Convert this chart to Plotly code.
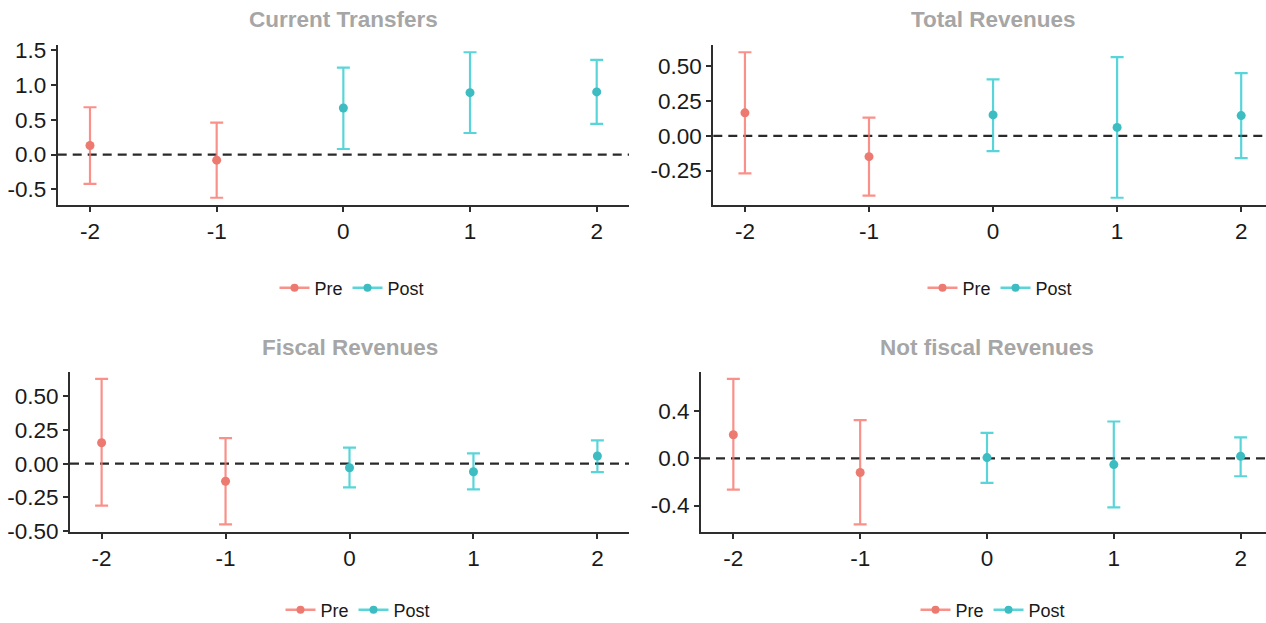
import plotly.graph_objects as go

# ---------------- data ----------------
periods = [-2, -1, 0, 1, 2]
phase = ["Pre", "Pre", "Post", "Post", "Post"]
phases = ["Pre", "Post"]

panel_titles = ["Current Transfers", "Total Revenues", "Fiscal Revenues", "Not fiscal Revenues"]

current_est = [0.13, -0.08, 0.67, 0.89, 0.90]
current_lo = [-0.42, -0.62, 0.08, 0.31, 0.44]
current_hi = [0.68, 0.46, 1.25, 1.47, 1.36]

total_est = [0.165, -0.15, 0.15, 0.06, 0.145]
total_lo = [-0.27, -0.43, -0.11, -0.445, -0.16]
total_hi = [0.60, 0.13, 0.405, 0.565, 0.45]

fiscal_est = [0.155, -0.13, -0.03, -0.06, 0.057]
fiscal_lo = [-0.31, -0.45, -0.176, -0.19, -0.062]
fiscal_hi = [0.628, 0.19, 0.119, 0.077, 0.173]

notfiscal_est = [0.20, -0.12, 0.006, -0.053, 0.017]
notfiscal_lo = [-0.265, -0.56, -0.208, -0.416, -0.152]
notfiscal_hi = [0.672, 0.323, 0.216, 0.312, 0.177]

x_tickvals = [-2, -1, 0, 1, 2]
x_ticktext = ["-2", "-1", "0", "1", "2"]

current_tickvals = [-0.5, 0.0, 0.5, 1.0, 1.5]
current_ticktext = ["-0.5", "0.0", "0.5", "1.0", "1.5"]
total_tickvals = [-0.25, 0.0, 0.25, 0.5]
total_ticktext = ["-0.25", "0.00", "0.25", "0.50"]
fiscal_tickvals = [-0.5, -0.25, 0.0, 0.25, 0.5]
fiscal_ticktext = ["-0.50", "-0.25", "0.00", "0.25", "0.50"]
notfiscal_tickvals = [-0.4, 0.0, 0.4]
notfiscal_ticktext = ["-0.4", "0.0", "0.4"]

# ---------------- styles ----------------
W, H = 1266, 623
FONT = "Liberation Sans, Arial, sans-serif"
bar_colors = {"Pre": "rgba(248,118,109,0.8)", "Post": "rgba(0,191,196,0.65)"}
pt_colors = {"Pre": "#EC7A71", "Post": "#3DBCC1"}
AXC = "#2e2e2e"

panels = [
    dict(est=current_est, lo=current_lo, hi=current_hi, tv=current_tickvals, tt=current_ticktext,
         xpx=(57.7, 629), ypx=(45, 205), xcut=None, legend_px=(352, 288)),
    dict(est=total_est, lo=total_lo, hi=total_hi, tv=total_tickvals, tt=total_ticktext,
         xpx=(713.3, 1266), ypx=(45, 205), xcut=2.2, legend_px=(1000, 288)),
    dict(est=fiscal_est, lo=fiscal_lo, hi=fiscal_hi, tv=fiscal_tickvals, tt=fiscal_ticktext,
         xpx=(70, 629), ypx=(371.7, 531.7), xcut=None, legend_px=(358, 610)),
    dict(est=notfiscal_est, lo=notfiscal_lo, hi=notfiscal_hi, tv=notfiscal_tickvals, tt=notfiscal_ticktext,
         xpx=(701, 1266), ypx=(371.7, 531.7), xcut=2.2, legend_px=(993, 610)),
]

fig = go.Figure()
layout = dict(width=W, height=H, margin=dict(l=0, r=0, t=0, b=0, autoexpand=False),
              paper_bgcolor="white", plot_bgcolor="white", showlegend=True,
              font=dict(family=FONT, color="#1a1a1a"))
annotations = []
shapes = []

cap_half = 0.05
x_lo_data = min(periods) - cap_half
x_hi_data = max(periods) + cap_half
xpad = 0.05 * (x_hi_data - x_lo_data)

for i, p in enumerate(panels):
    k = "" if i == 0 else str(i + 1)
    xa, ya = "x" + k, "y" + k
    leg = "legend" + k

    for ph in phases:
        idx = [j for j, g in enumerate(phase) if g == ph]
        xs = [periods[j] for j in idx]
        ys = [p["est"][j] for j in idx]
        up = [p["hi"][j] - p["est"][j] for j in idx]
        dn = [p["est"][j] - p["lo"][j] for j in idx]
        fig.add_trace(go.Scatter(
            x=xs, y=ys, mode="markers", xaxis=xa, yaxis=ya, showlegend=False,
            marker=dict(size=9, color=pt_colors[ph]),
            error_y=dict(type="data", symmetric=False, array=up, arrayminus=dn,
                         width=6.5, thickness=2.2, color=bar_colors[ph]),
        ))
        # legend key (line + point, like the ggplot key)
        fig.add_trace(go.Scatter(
            x=[None], y=[None], mode="lines+markers", name=ph, xaxis=xa, yaxis=ya,
            legend=leg, showlegend=True,
            line=dict(color=bar_colors[ph], width=2.5),
            marker=dict(size=8, color=pt_colors[ph]),
        ))

    ymin, ymax = min(p["lo"]), max(p["hi"])
    ypad = 0.05 * (ymax - ymin)
    xr = [x_lo_data - xpad, x_hi_data + xpad if p["xcut"] is None else p["xcut"]]

    axis_common = dict(showgrid=False, zeroline=False, showline=True, linecolor=AXC, linewidth=2,
                       ticks="outside", ticklen=5, tickwidth=1.6, tickcolor=AXC,
                       tickfont=dict(size=22.5, family=FONT, color="#1a1a1a"))
    layout["xaxis" + k] = dict(axis_common, domain=[p["xpx"][0] / W, p["xpx"][1] / W],
                               range=xr, anchor=ya, tickvals=x_tickvals, ticktext=x_ticktext)
    layout["yaxis" + k] = dict(axis_common, domain=[1 - p["ypx"][1] / H, 1 - p["ypx"][0] / H],
                               range=[ymin - ypad, ymax + ypad], anchor=xa,
                               tickvals=p["tv"], ticktext=p["tt"])

    layout[leg] = dict(orientation="h", x=p["legend_px"][0] / W, xanchor="center",
                       y=1 - p["legend_px"][1] / H, yanchor="middle",
                       bgcolor="rgba(0,0,0,0)", font=dict(size=18, family=FONT, color="#1a1a1a"),
                       itemwidth=30)

    # title above panel, centred on the panel
    annotations.append(dict(text="<b>" + panel_titles[i] + "</b>", xref=xa, x=0,
                            yref="paper", y=1 - (20 if i < 2 else 347) / H, yanchor="middle",
                            xanchor="center", showarrow=False,
                            font=dict(size=22.5, family=FONT, color="#A6A6A6")))
    # dashed reference line at zero
    shapes.append(dict(type="line", xref=xa + " domain", x0=0, x1=1, yref=ya, y0=0, y1=0,
                       line=dict(color="#2a2a2a", width=2.2, dash="9px,6px"), layer="below"))

layout["annotations"] = annotations
layout["shapes"] = shapes
fig.update_layout(**layout)
fig.write_html("out.html")
